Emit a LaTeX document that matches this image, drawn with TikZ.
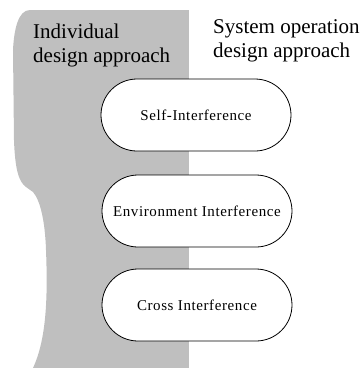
\documentclass[tikz,border=0pt]{standalone}
\usepackage{fontspec}
\setmainfont{Liberation Serif}
\newfontfamily\nodefont[LetterSpace=4]{Liberation Serif}
\usetikzlibrary{shapes.misc}
\tikzset{
  zone/.style={fill=black!25, draw=none},
  headtext/.style={inner sep=0pt, align=left, anchor=base west, font=\fontsize{21}{23.5}\selectfont},
  interf/.style={rounded rectangle, draw=black, line width=0.8pt, fill=white,
    minimum width=190pt, minimum height=72pt, inner sep=0pt,
    font=\nodefont\fontsize{15}{18}\selectfont}
}
\begin{document}
\begin{tikzpicture}[x=1pt,y=-1pt]
\useasboundingbox (0,0) rectangle (361,368);
\fill[zone] (189,10) -- (30,10) .. controls (18,10) and (14,30) .. (13,50)
  -- (14,140) .. controls (15,170) and (19,182) .. (26,187) -- (33,192)
  .. controls (40,200) and (45,220) .. (46,250)
  .. controls (48,300) and (46,340) .. (33,368) -- (189,368) -- cycle;
\node[headtext] (indiv) at (33,62) {Individual\\design approach};
\node[headtext] (sysop) at (213,57) {System operation\\design approach};
\node[interf] (self) at (196,115) {Self-Interference};
\node[interf] (env) at (197,211) {Environment Interference};
\node[interf] (cross) at (197,305) {Cross Interference};
\end{tikzpicture}
\end{document}
